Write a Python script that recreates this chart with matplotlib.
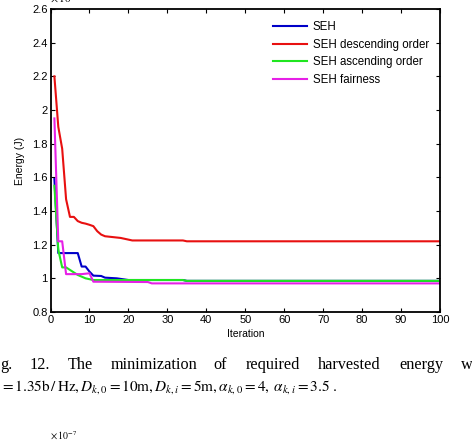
import numpy as np
import matplotlib
matplotlib.use('Agg')
import matplotlib.pyplot as plt

plt.rcParams['mathtext.fontset'] = 'stix'
plt.rcParams['font.family'] = ['Liberation Sans', 'DejaVu Sans']

# breakpoints (iteration, energy in 1e-7 J)
seh_it = [1, 2, 7, 8, 9, 10, 11, 13, 14, 17, 20, 34, 35, 100]
seh_val = [1.59, 1.15, 1.15, 1.07, 1.07, 1.04, 1.016, 1.014, 1.004, 1.0, 0.99, 0.99, 0.985, 0.985]

desc_it = [1, 2, 3, 4, 5, 6, 7, 8, 9, 10, 11, 12, 13, 14, 16, 18, 20, 21, 34, 35, 100]
desc_val = [2.20, 1.90, 1.77, 1.47, 1.365, 1.365, 1.34, 1.33, 1.325, 1.318, 1.31, 1.28, 1.26,
            1.25, 1.245, 1.24, 1.23, 1.225, 1.225, 1.22, 1.22]

asc_it = [1, 2, 3, 4, 5, 6, 7, 8, 9, 10, 11, 34, 35, 100]
asc_val = [1.55, 1.17, 1.065, 1.065, 1.05, 1.035, 1.02, 1.01, 1.0, 0.995, 0.99, 0.99, 0.985, 0.985]

fair_it = [1, 2, 3, 4, 8, 10, 11, 25, 26, 100]
fair_val = [1.95, 1.22, 1.22, 1.025, 1.025, 1.03, 0.98, 0.978, 0.97, 0.97]

labels = ['SEH', 'SEH descending order', 'SEH ascending order', 'SEH fairness']
colors = ['#0000c8', '#e81010', '#20e620', '#e620e6']

fig = plt.figure(figsize=(4.72, 4.44), dpi=100)
ax = fig.add_axes([50.5/472, 1-312/444, (440-50.5)/472, (312-9)/444])

series = [(seh_it, seh_val), (desc_it, desc_val), (asc_it, asc_val), (fair_it, fair_val)]
for (x, y), lab, c in zip(series, labels, colors):
    ax.plot(x, y, color=c, lw=1.5, label=lab)

ax.set_xlim(0, 100)
ax.set_ylim(0.8, 2.6)
ax.set_xticks(np.arange(0, 101, 10))
ax.set_yticks([0.8, 1, 1.2, 1.4, 1.6, 1.8, 2, 2.2, 2.4, 2.6])
ax.set_yticklabels(['0.8', '1', '1.2', '1.4', '1.6', '1.8', '2', '2.2', '2.4', '2.6'])
ax.tick_params(direction='in', top=True, right=True, labelsize=8, length=3, width=0.8, pad=2)
for s in ax.spines.values():
    s.set_linewidth(1.3)
ax.set_xlabel('Iteration', fontsize=7.5, labelpad=3)
ax.set_ylabel('Energy (J)', fontsize=7.5, labelpad=5)

leg = ax.legend(loc='upper right', fontsize=8.3, frameon=False, handlelength=3.0,
                handletextpad=0.45, labelspacing=0.48, borderaxespad=0.3,
                bbox_to_anchor=(0.992, 0.987))

# exponent label (cut at the top edge)
fig.text(50/472, 1-5/444, r'$\times\,10^{-7}$', fontsize=8, va='bottom', ha='left',
         family='DejaVu Sans')

# caption text from the page below the chart
words = ['g.', '12.', 'The', 'minimization', 'of', 'required', 'harvested', 'energy', 'w']
word_x = [0, 30, 68, 111, 213, 246, 318, 399, 461]
for w, xp in zip(words, word_x):
    fig.text(xp/472, 1-369/444, w, fontsize=11.7, family='Liberation Serif', va='baseline')

fig.text(0, 1-390/444,
         r'$=1.35\mathrm{b\,/\,Hz}, D_{k,0}=10\mathrm{m}, D_{k,i}=5\mathrm{m}, '
         r'\alpha_{k,0}=4,\;\alpha_{k,i}=3.5\ .$',
         fontsize=11, va='baseline')

fig.text(50/472, 1-440/444, r'$\times\,10^{-7}$', fontsize=7, va='baseline', ha='left',
         family='DejaVu Sans')

fig.savefig('out.png', dpi=100)
